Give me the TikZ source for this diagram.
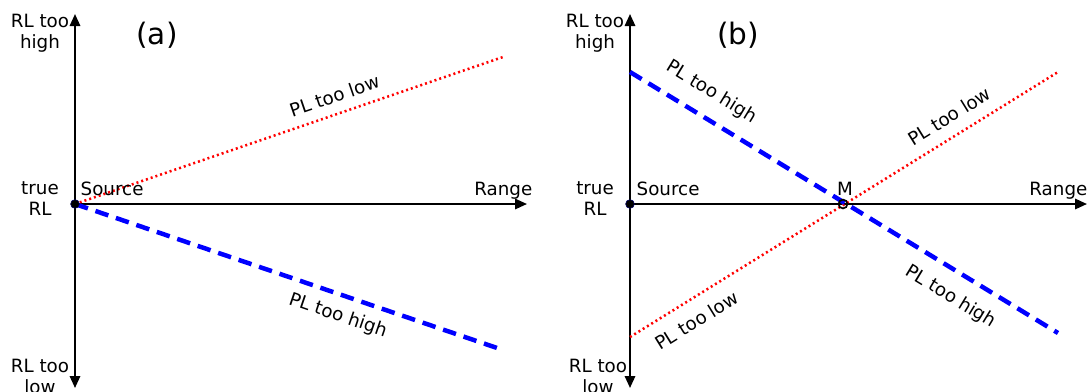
\documentclass[tikz,border=0pt]{standalone}
\usepackage{fontspec}
\setmainfont{DejaVu Sans}
\usetikzlibrary{arrows.meta, positioning, calc}

\begin{document}
\begin{tikzpicture}[
    x=0.025cm, y=-0.025cm,
    axis/.style={-{Triangle[length=3mm, width=2.6mm]}, line width=1.4pt},
    plhigh/.style={blue, line width=3.2pt, dash pattern=on 3.4mm off 2mm},
    pllow/.style={red, line width=1.8pt, dash pattern=on 0.5mm off 0.75mm},
    lbl/.style={font=\fontsize{13}{15}\selectfont, text=black, align=center, inner sep=1pt},
    tag/.style={font=\fontsize{21}{24}\selectfont},
    src/.style={circle, fill=black, draw=blue!40!black, inner sep=0pt, minimum size=2.2mm}
]
\useasboundingbox (0,0) rectangle (1089,391);

% panel (a)
\coordinate (aO) at (75,204);
\coordinate (aTop) at (75,14);
\coordinate (aBot) at (75,388);
\coordinate (aEnd) at (527,204);
\coordinate (aRed) at (503,57);
\coordinate (aBlue) at (503,350);

\draw[axis] (aO) -- (aTop);
\draw[axis] (aO) -- (aBot);
\draw[axis] (aO) -- (aEnd);
\draw[pllow] (aO) -- (aRed) node[lbl, pos=0.62, sloped, above=6pt] (aLow) {PL too low};
\draw[plhigh] (aO) -- (aBlue) node[lbl, pos=0.63, sloped, below=6pt] (aHigh) {PL too high};
\node[src] (aSrc) at (aO) {};

\node[lbl] (aHi) at (40,33) {RL too\\high};
\node[lbl] (aTrue) at (40,199) {true\\RL};
\node[lbl] (aLo) at (40,376) {RL too\\low};
\node[lbl, anchor=base west] (aSource) at (79,195) {Source};
\node[lbl, anchor=base east] (aRange) at (534,195) {Range};
\node[tag] (aTag) at (157,35) {(a)};

% panel (b)
\coordinate (bO) at (630,204);
\coordinate (bTop) at (630,14);
\coordinate (bBot) at (630,388);
\coordinate (bEnd) at (1087,204);
\coordinate (bM) at (843,204);
\coordinate (bB1) at (630,72);
\coordinate (bB2) at (1058,333);
\coordinate (bR1) at (630,337);
\coordinate (bR2) at (1058,72);

\draw[axis] (bO) -- (bTop);
\draw[axis] (bO) -- (bBot);
\draw[axis] (bO) -- (bEnd);
\draw[pllow] (bR1) -- (bR2)
    node[lbl, pos=0.13, sloped, below=8pt] (bLowA) {PL too low}
    node[lbl, pos=0.77, sloped, above=7pt] (bLowB) {PL too low};
\draw[plhigh] (bB1) -- (bB2)
    node[lbl, pos=0.16, sloped, above=9pt] (bHighA) {PL too high}
    node[lbl, pos=0.78, sloped, below=9pt] (bHighB) {PL too high};
\node[src] (bSrc) at (bO) {};
\node[circle, draw=black, line width=1.2pt, inner sep=0pt, minimum size=2.2mm] (bMid) at (bM) {};

\node[lbl] (bHi) at (595,33) {RL too\\high};
\node[lbl] (bTrue) at (595,199) {true\\RL};
\node[lbl] (bLo) at (598,376) {RL too\\low};
\node[lbl, anchor=base west] (bSource) at (635,195) {Source};
\node[lbl, anchor=base] (bMlabel) at (845,195) {M};
\node[lbl, anchor=base east] (bRange) at (1089,195) {Range};
\node[tag] (bTag) at (738,35) {(b)};

\end{tikzpicture}
\end{document}
